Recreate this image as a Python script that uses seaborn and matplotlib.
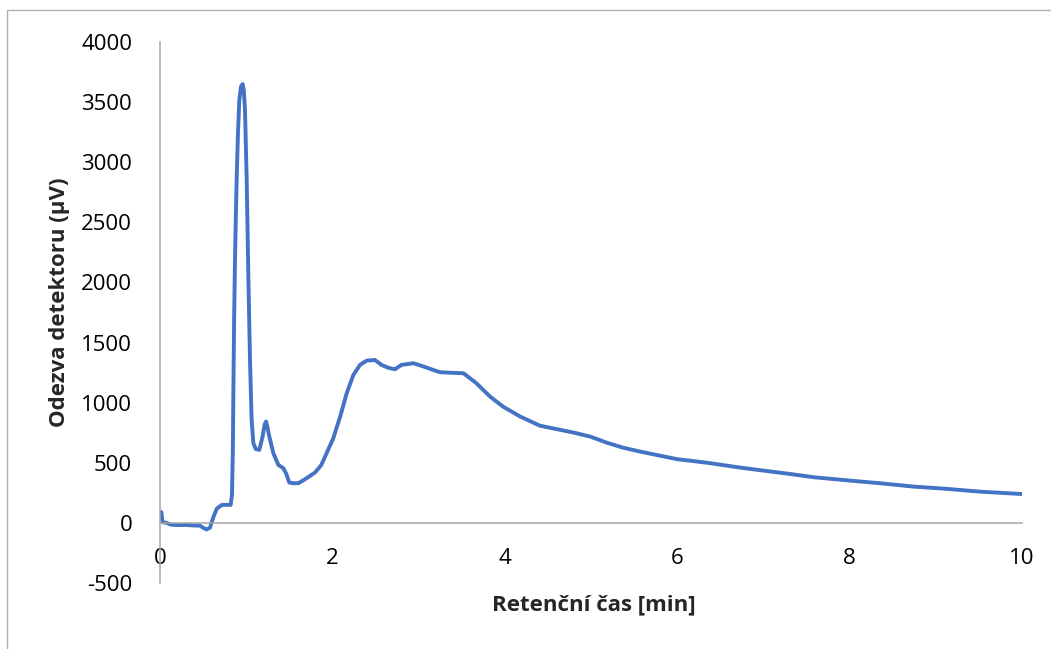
import matplotlib
matplotlib.use("Agg")
import matplotlib.pyplot as plt
import seaborn as sns
import pandas as pd
from matplotlib.patches import Rectangle

# Data
time_min = [0.0, 0.015, 0.03, 0.08, 0.12, 0.2, 0.3, 0.4, 0.46, 0.5, 0.54, 0.58,
            0.62, 0.66, 0.72, 0.78, 0.82, 0.835, 0.845, 0.851, 0.86, 0.870, 0.88,
            0.89, 0.905, 0.92, 0.94, 0.959, 0.972, 0.986, 1.005, 1.025, 1.044,
            1.063, 1.083, 1.11, 1.152, 1.19, 1.215, 1.23, 1.245, 1.268, 1.315,
            1.373, 1.43, 1.462, 1.5, 1.55, 1.605, 1.70, 1.80, 1.87, 1.93, 2.01,
            2.09, 2.166, 2.243, 2.32, 2.398, 2.494, 2.57, 2.65, 2.726, 2.80, 2.94,
            3.06, 3.17, 3.25, 3.4, 3.52, 3.67, 3.83, 3.98, 4.18, 4.41, 4.6, 4.80,
            4.99, 5.18, 5.37, 5.57, 5.76, 6.0, 6.34, 6.73, 7.0, 7.31, 7.58, 8.0,
            8.35, 8.74, 9.13, 9.51, 10.0]
response_uv = [90, 90, 5, 0, -14, -18, -17, -22, -22, -40, -55, -40,
               50, 120, 150, 150, 150, 233, 600, 1078, 1700, 2187, 2550,
               2880, 3250, 3518, 3630, 3650, 3600, 3435, 2880, 2048, 1355,
               857, 663, 615, 607, 718, 820, 843, 800, 718, 580,
               482, 455, 413, 335, 330, 330, 371, 420, 480, 575, 704,
               884, 1078, 1230, 1314, 1350, 1355, 1314, 1290, 1278, 1314, 1328,
               1300, 1272, 1253, 1248, 1245, 1162, 1050, 967, 884, 808, 780, 751,
               718, 668, 626, 593, 565, 530, 501, 460, 435, 407, 380, 352,
               330, 302, 283, 260, 240]

x_ticks = [0, 2, 4, 6, 8, 10]
y_ticks = [-500, 0, 500, 1000, 1500, 2000, 2500, 3000, 3500, 4000]
x_label = "Retenční čas [min]"
y_label = "Odezva detektoru (µV)"

df = pd.DataFrame({"t": time_min, "y": response_uv})

sns.set_style("white")
plt.rcParams["font.family"] = ["Open Sans", "DejaVu Sans"]
plt.rcParams["axes.unicode_minus"] = False

fig = plt.figure(figsize=(10.51, 6.49), dpi=100)
ax = fig.add_axes([160 / 1051, 1 - 583 / 649, (1022 - 160) / 1051, (583 - 42) / 649])

sns.lineplot(data=df, x="t", y="y", ax=ax, color="#4472C4", linewidth=2.8,
             sort=False, estimator=None)
for ln in ax.lines:
    ln.set_solid_joinstyle("round")
    ln.set_solid_capstyle("round")

ax.set_xlim(0, 10)
ax.set_ylim(-500, 4000)
ax.set_xticks(x_ticks)
ax.set_yticks(y_ticks)

axis_grey = "#A6A6A6"
for s in ["top", "right"]:
    ax.spines[s].set_visible(False)
ax.spines["bottom"].set_position(("data", 0))
ax.spines["left"].set_position(("data", 0))
for s in ["bottom", "left"]:
    ax.spines[s].set_color(axis_grey)
    ax.spines[s].set_linewidth(1.1)

ax.tick_params(axis="x", direction="out", length=6, width=1.1, color=axis_grey,
               labelsize=16, pad=12, labelcolor="black")
ax.tick_params(axis="y", direction="out", length=6, width=1.1, color=axis_grey,
               labelsize=16, pad=14, labelcolor="black")

ax.set_xlabel("")
ax.set_ylabel("")
fig.text(594 / 1051, 1 - 605 / 649, x_label, ha="center", va="center",
         fontsize=16, fontweight="bold")
fig.text(60 / 1051, 1 - 302 / 649, y_label, ha="center", va="center",
         rotation=90, fontsize=16, fontweight="bold")

# outer chart border (partially visible in the reference)
fig.patches.append(Rectangle((7 / 1051, -0.1), 1.2, 1 - 10 / 649 + 0.1,
                             transform=fig.transFigure, fill=False,
                             edgecolor="#B0B0B0", linewidth=1.0))

fig.savefig("out.png", dpi=100)
